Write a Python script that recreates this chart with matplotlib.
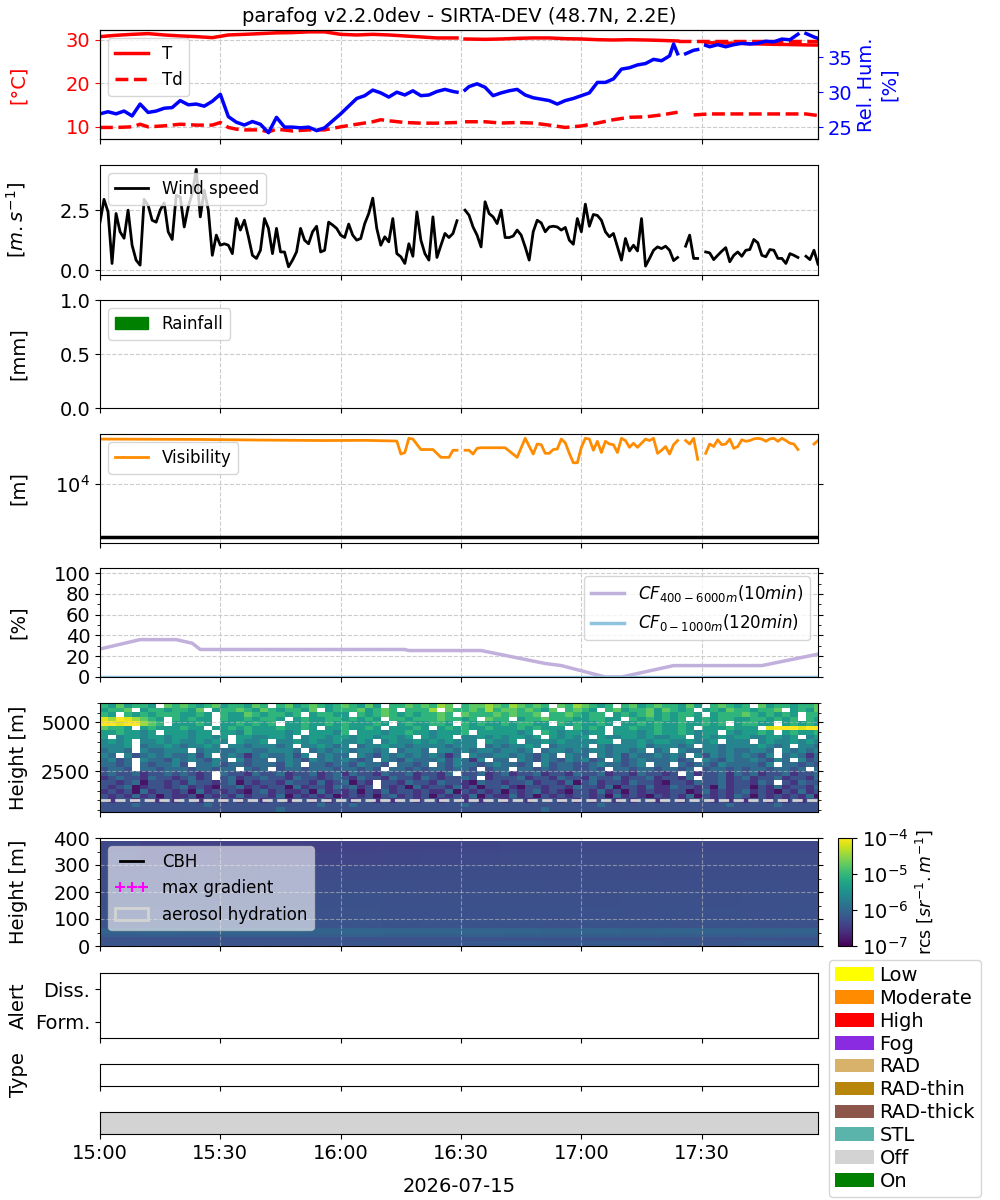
import numpy as np
import matplotlib
matplotlib.use("Agg")
import matplotlib.pyplot as plt
import matplotlib.dates as mdates
from matplotlib.colors import LogNorm
from matplotlib.patches import Patch
from matplotlib.lines import Line2D
from matplotlib.ticker import MultipleLocator, NullLocator

nan = np.nan
plt.rcParams['font.size'] = 14

# ---- data (minutes after 15:00) ----
t_min = [0, 4, 8, 12, 16, 20, 24, 28, 32, 36, 40, 44, 48, 52, 56, 60, 64, 68, 72, 76, 80, 84, 89, 90,
         91, 96, 100, 104, 108, 112, 116, 120, 124, 128, 132, 136, 140, 144, 145,
         151, 156, 160, 164, 168, 172, 176, 179]
t_val = [30.77, 31.08, 31.3, 31.47, 31.16, 30.93, 30.77, 30.54, 31.16, 31.3, 31.47, 31.64, 31.7, 31.87,
         31.87, 31.3, 31.16, 31.3, 31.16, 30.93, 30.7, 30.47, 30.47, nan,
         30.23, 30.15, 30.23, 30.38, 30.47, 30.47, 30.3, 30.23, 30.07, 30.0, 30.07, 30.0, 29.9, 29.77, nan,
         29.37, 29.3, 29.2, 29.1, 29.0, 28.95, 28.87, 28.83]
t2_min = [144, 179]
t2_val = [29.77, 29.77]

td_min = [0, 4, 8, 10, 12, 16, 20, 24, 28, 30, 32, 34, 36, 40, 42, 44, 48, 52, 56, 60, 64, 68, 70, 72,
          76, 80, 84, 89, 90, 91, 96, 100, 104, 108, 112, 116, 120, 124, 128, 132, 136, 140, 144, 145,
          148, 152, 156, 160, 164, 168, 172, 176, 179]
td_val = [9.86, 9.86, 10.0, 10.6, 10.0, 10.23, 10.6, 10.4, 10.4, 11.0, 9.86, 9.46, 9.3, 9.3, 8.83, 9.46,
          9.06, 9.3, 9.3, 10.0, 10.6, 11.17, 11.64, 11.4,
          11.0, 10.85, 10.85, 11.0, nan, 11.17, 11.17, 10.87, 11.0, 10.87, 10.4, 9.86, 10.2, 10.87, 11.64,
          12.2, 12.3, 12.74, 13.37, nan,
          12.74, 12.97, 12.97, 12.97, 12.97, 12.97, 12.97, 12.97, 12.6]

rh_min = [0, 2, 4, 6, 8, 10, 12, 14, 16, 18, 20, 22, 24, 26, 28, 30, 32, 34, 36, 38, 40, 42, 44, 46, 48,
          50, 52, 54, 56, 58, 60, 62, 64, 66, 68, 70, 72, 74, 76, 78, 80, 82, 84, 86, 88, 89, 90, 91,
          92, 94, 96, 98, 100, 102, 104, 106, 108, 110, 112, 114, 116, 118, 120, 122, 124, 126, 128,
          130, 132, 134, 136, 138, 140, 142, 143, 144, 145, 146, 148, 149, 150, 151, 152, 154, 156,
          158, 160, 162, 164, 166, 168, 170, 172, 174, 175, 176, 178, 179]
rh_val = [26.9, 27.2, 26.9, 27.3, 26.6, 28.3, 27.1, 27.3, 27.7, 27.8, 28.8, 28.2, 28.3, 28.0, 28.7, 29.7,
          26.5, 25.7, 25.3, 25.8, 25.4, 24.2, 26.4, 25.0, 25.0,
          24.9, 25.0, 24.5, 24.9, 25.9, 26.9, 28.0, 29.1, 29.5, 30.3, 29.9, 29.3, 30.0, 29.6, 30.2, 29.5,
          29.6, 30.1, 30.4, 30.1, 30.0, nan, 30.3,
          30.8, 31.2, 30.7, 29.5, 29.9, 30.2, 30.4, 29.6, 29.2, 29.0, 28.8, 28.3, 28.8, 29.1, 29.5, 29.9,
          31.4, 31.4, 31.9,
          33.3, 33.5, 33.9, 34.1, 34.7, 34.5, 35.2, 36.9, 35.5, nan, 35.5, 36.0, 36.1, nan, 36.7, 36.5,
          36.8, 36.5,
          36.8, 37.0, 36.9, 37.0, 37.3, 37.2, 37.6, 37.5, 38.3, nan, 38.4, 37.9, 37.7]

wind = [2.0, 2.95, 2.43, 0.28, 2.36, 1.6, 1.33, 2.5, 1.04, 0.42,
        0.21, 2.95, 2.7, 2.08, 2.0, 2.5, 2.8, 1.6, 1.28, 3.12,
        3.05, 1.8, 2.64, 3.2, 4.2, 2.22, 3.33, 2.5, 0.62, 1.46,
        1.04, 1.1, 1.04, 0.69, 2.15, 1.67, 2.08, 1.39, 0.62, 0.49,
        0.83, 2.15, 1.74, 0.69, 1.74, 0.76, 0.76, 0.14, 0.42, 0.76,
        1.74, 1.25, 1.1, 1.6, 1.83, 0.76, 0.83, 2.0, 1.88, 1.74,
        1.46, 1.36, 1.92, 1.46, 1.25, 1.32, 1.94, 2.36, 3.0, 1.74,
        1.04, 1.39, 1.18, 2.15, 0.69, 0.56, 0.28, 1.1, 0.58, 2.43,
        1.25, 0.69, 0.42, 2.22, 0.53, 1.04, 1.53, 1.36, 1.53, 2.06,
        nan, 2.5, 2.29, 1.8, 1.46, 0.97, 2.85, 2.36, 2.22, 1.94,
        2.5, 1.36, 1.36, 1.42, 1.67, 1.46, 0.97, 0.42, 1.6, 2.08,
        1.97, 1.6, 1.8, 1.83, 1.8, 1.67, 1.78, 1.25, 1.08, 2.15,
        1.6, 2.75, 1.83, 2.32, 2.28, 2.08, 1.6, 1.39, 1.53, 0.97,
        0.42, 1.32, 0.8, 1.04, 0.8, 2.15, 0.17, 0.49, 0.83, 0.97,
        0.9, 1.0, 0.83, 0.4, 0.53, nan, 1.0, 1.46, 0.49, 0.49,
        nan, 0.76, 0.72, 0.44, 0.62, 0.79, 0.94, 0.35, 0.62, 0.76,
        0.58, 0.83, 0.86, 1.28, 1.14, 0.62, 0.56, 0.86, 0.83, 0.49,
        0.49, 0.28, 0.69, 0.62, 0.53, nan, 0.58, 0.44, 0.83, 0.25]

rain_min = []
rain_mm = []

vis_min = [0, 24, 40, 56, 66, 74, 75, 76, 77, 78, 80, 83, 85, 87, 88, 89, 90, 91, 92, 93, 94, 95,
           101, 104, 106, 108, 109, 110, 111, 112, 113, 114, 115, 116, 117, 118, 119,
           120, 121, 122, 123, 124, 125, 126, 127, 128, 129,
           130, 131, 132, 133, 134, 135, 136, 137, 138, 139,
           140, 141, 142, 143, 144, 145, 146, 147, 148, 149,
           150, 151, 152, 153, 154, 155, 156, 157, 158, 159,
           160, 161, 162, 163, 164, 165, 166, 167, 168, 169,
           170, 171, 172, 173, 174, 175, 178, 179]
vis_val = [70600, 69500, 67600, 66200, 66800, 64800, 36800, 39300, 72900, 70600, 44800, 44800, 31900,
           31900, 43400, 43400, nan, 43400, 43400, 36800, 47200, 48400,
           48400, 31900, 72900, 36800, 56900, 55300, 38000, 38000, 44800, 45800, 70600, 60000, 38000,
           25200, 25200,
           49300, 72900, 70600, 43400, 64100, 39300, 64100, 56900, 55300, 39300,
           72900, 66200, 49300, 58900, 49300, 58900, 70600, 66200, 72900, 38000,
           43400, 51000, 36800, 55300, 66200, nan, 66200, 56900, 72900, 29300,
           nan, 38000, 56900, 51000, 68500, 55300, 56900, 70600, 47200, 51000,
           68500, 64100, 66200, 71100, 72900, 70600, 64100, 71100, 72900, 64100,
           72900, 66200, 58900, 56900, 44800, nan, 56900, 66200]
fog_threshold = 1000

cf_min = [0, 10, 19, 23, 25, 76, 77, 95, 111, 115, 126, 130, 143, 165, 179]
cf_high = [27, 36, 36, 32.5, 26.5, 26.5, 25.5, 25.5, 13, 11, 0, 0, 11, 11, 22]
cf_low_min = [0, 179]
cf_low = [0, 0]

# range-corrected signal, 400-6000 m, 2-min steps; level k -> 10**(-6.85 + 0.3k), '.' = no data
rcs_levels = "0123456789a"
rcs_rows_top_down = [
    "6575665.76 7656756657 6.67567656 76575.6676 7687.67787 687676.768 7656.67567 66575.6765 6.75665667",
    "5667.56656 657.566765 7656657.56 6675676.66 68.7667686 7767657.67 65.6756675 7656.56576 65667.5657",
    "65.6565666 5565.65576 56656.5665 5.65676565 6676.76667 67667.6676 566.565675 65665.5666 7656565.66",
    "98a98765.6 5655.65565 665.565566 56565.6656 6676656.76 6.56676665 56655.6565 656.565665 5665656.65",
    "aa9aa876.5 5565.55656 56.5565565 655565.565 5665.65655 656655.656 5565.55656 55655656.5 6655.56565",
    "7665.56555 655.556565 5565565.55 65565.5556 5.56565565 55656555.6 565.556556 5565.55565 55.9aaa9aa",
    "5565545.55 5455.55465 55545.5554 6.55545565 545556.555 5545.65455 455.555456 5565455.54 5565.56556",
    "5.45545545 545545.554 4554.45545 545545545. 5455.44545 45545.5454 5.54455454 455.454545 5445545.45",
    "4545.44545 445454.544 5.44545445 4454.45445 4545444.54 45.4454544 4455.44545 5445445.44 4.45445454",
    "4445.34454 34454.4434 4434.44543 4.34454434 4443444.34 34454.3444 4.43444534 4434.44344 445434.443",
    "3443.43344 4.34433443 34443.3434 434434.344 3.44343443 4434.34434 34434434.3 4.43344343 3443.43434",
    "43.4234343 3424.34313 433424.343 3.43243434 34313.4334 4343243.43 3.43424334 343.424343 4324.34313",
    "3423.43324 343243.423 3.34324343 4323.43243 33424314.3 3.43243243 423.423433 3423.43243 343243.423",
    "3323.32334 2.33423323 33243.3323 324332.332 3.32433234 3323.42332 23433234.3 3.32332433 3324.33232",
    "2332.33233 3233233.32 3.23323332 33232.3323 2332332.23 3.33232332 232.332332 3323.23323 23323323.3",
    "2322312232 3212.32213 2231223123 1322132231 2213.22312 3122312213 2231221322 12.3122313 2312231223",
    "1232213221 2312.23122 3221322123 2132213221 3212232.12 2231221322 1322312231 2213.22312 3122312213",
    "2212302212 1322123021 2213221312 3021.22132 2132210322 1223122130 2312213221 0221322312 2132.21322",
    "2123012212 3121022312 1220312213 2312.21203 1221312022 3102212213 2213022131 1322120312 2021312213",
    "1212031221 2031212102 3121120312 1202131221 2113021212 0212312102 2131202121 1220131212 3121021312",
    "2121312021 1202121312 2130212120 1212023121 2021213021 1312021212 2120312102 1213021213 2021212130",
    "2122122121 2212212122 1221221212 2122121221 2212212122 1221222121 2122121221 2212221212 1221212122",
    "2222322222 2223222222 2222222322 2322222222 2222232222 2222222222 2232222222 2222222232 2222322222",
    "2222222222 2222222222 2232222222 2222222222 2222222222 2222232222 2222222222 2222222222 2222222222",
]

# low-level rcs (log10), 0-390 m, 10-min steps
low_heights = [0, 20, 35, 45, 65, 100, 150, 200, 250, 300, 350, 390]
low_rcs = [
    [-6.22, -6.22, -6.22, -6.21, -6.22, -6.22, -6.2, -6.22, -6.2, -6.17, -6.16, -6.18, -6.16, -6.17, -6.2, -6.21, -6.17, -6.18],
    [-6.25, -6.25, -6.25, -6.24, -6.25, -6.25, -6.24, -6.25, -6.24, -6.23, -6.24, -6.23, -6.24, -6.24, -6.25, -6.25, -6.24, -6.25],
    [-6.13, -6.12, -6.13, -6.12, -6.11, -6.12, -6.1, -6.12, -6.11, -6.1, -6.11, -6.12, -6.11, -6.12, -6.12, -6.13, -6.12, -6.13],
    [-6.06, -6.05, -6.06, -6.05, -6.04, -6.06, -6.03, -6.05, -6.04, -6.05, -6.05, -6.06, -6.05, -6.06, -6.05, -6.06, -6.06, -6.07],
    [-6.23, -6.23, -6.23, -6.22, -6.23, -6.22, -6.21, -6.23, -6.22, -6.23, -6.23, -6.24, -6.23, -6.23, -6.24, -6.23, -6.24, -6.24],
    [-6.26, -6.26, -6.25, -6.26, -6.26, -6.25, -6.25, -6.26, -6.26, -6.26, -6.26, -6.26, -6.26, -6.27, -6.26, -6.26, -6.27, -6.26],
    [-6.27, -6.27, -6.27, -6.27, -6.28, -6.27, -6.26, -6.27, -6.27, -6.27, -6.27, -6.27, -6.28, -6.27, -6.27, -6.28, -6.27, -6.27],
    [-6.28, -6.29, -6.29, -6.3, -6.29, -6.29, -6.28, -6.28, -6.29, -6.28, -6.28, -6.29, -6.28, -6.28, -6.29, -6.28, -6.28, -6.29],
    [-6.3, -6.32, -6.33, -6.33, -6.32, -6.32, -6.31, -6.3, -6.3, -6.3, -6.3, -6.3, -6.3, -6.31, -6.3, -6.3, -6.3, -6.3],
    [-6.32, -6.37, -6.38, -6.39, -6.38, -6.38, -6.37, -6.36, -6.35, -6.33, -6.32, -6.32, -6.32, -6.32, -6.32, -6.32, -6.32, -6.32],
    [-6.35, -6.41, -6.42, -6.43, -6.42, -6.42, -6.41, -6.4, -6.38, -6.36, -6.35, -6.35, -6.35, -6.35, -6.35, -6.35, -6.35, -6.35],
]

cbh_min = []
cbh_m = []

alert_ticks = ['Form.', 'Diss.']
onoff_start = [0]
onoff_end = [180]
onoff_state = ['Off']

legend_labels = ['Low', 'Moderate', 'High', 'Fog', 'RAD', 'RAD-thin', 'RAD-thick', 'STL', 'Off', 'On']
legend_colors = ['yellow', 'darkorange', 'red', 'blueviolet', '#d8b26a', 'darkgoldenrod',
                 '#8c564b', '#5ab4ac', 'lightgray', 'green']

# ---- helpers ----
base = np.datetime64('2026-07-15T15:00')


def tm(m):
    return base + (np.asarray(m, dtype=float) * 60).astype('timedelta64[s]')


norm = LogNorm(1e-7, 1e-4)
grid_kw = dict(ls='--', color='#cccccc', lw=0.8)

fig = plt.figure(figsize=(10, 12), dpi=100)
L, W = 0.1, 0.718


def box(top, bottom):
    return [L, 1 - bottom / 1200, W, (bottom - top) / 1200]


ax1 = fig.add_axes(box(30, 139))
ax2 = fig.add_axes(box(165, 275), sharex=ax1)
ax3 = fig.add_axes(box(300, 408), sharex=ax1)
ax4 = fig.add_axes(box(434, 543), sharex=ax1)
ax5 = fig.add_axes(box(568, 677), sharex=ax1)
ax6 = fig.add_axes(box(703, 812), sharex=ax1)
ax7 = fig.add_axes(box(838, 946), sharex=ax1)
ax8 = fig.add_axes(box(973, 1038), sharex=ax1)
ax9 = fig.add_axes(box(1064, 1086), sharex=ax1)
ax10 = fig.add_axes(box(1112, 1134), sharex=ax1)
cax = fig.add_axes([0.838, 1 - 946 / 1200, 0.014, 108 / 1200])

# T / Td / RH
ax1.plot(tm(t_min), t_val, color='red', lw=2.5, label='T')
ax1.plot(tm(td_min), td_val, color='red', lw=2.5, ls='--', label='Td')
ax1.plot(tm(t2_min), t2_val, color='red', lw=2.5, ls='--')
ax1.set_ylim(7.2, 32.3)
ax1.set_yticks([10, 20, 30])
ax1.tick_params(axis='y', colors='red')
ax1.set_ylabel('[°C]', color='red')
ax1.grid(True, **grid_kw)
ax1.set_title('parafog v2.2.0dev - SIRTA-DEV (48.7N, 2.2E)', fontsize=14)
ax1b = ax1.twinx()
ax1b.plot(tm(rh_min), rh_val, color='blue', lw=2.5)
ax1b.set_ylim(23.3, 38.9)
ax1b.set_yticks([25, 30, 35])
ax1b.tick_params(axis='y', colors='blue')
ax1b.set_ylabel('Rel. Hum.\n[%]', color='blue')
ax1b.yaxis.set_label_coords(1.055, 0.5)
h, lab = ax1.get_legend_handles_labels()
ax1b.legend(h, lab, loc='upper left', fontsize=12)

# wind
ax2.plot(tm(np.arange(len(wind))), wind, color='black', lw=2, label='Wind speed')
ax2.set_ylim(-0.2, 4.38)
ax2.set_yticks([0, 2.5])
ax2.set_yticklabels(['0.0', '2.5'])
ax2.set_ylabel('[$m.s^{-1}$]')
ax2.grid(True, **grid_kw)
ax2.legend(loc='upper left', fontsize=12)

# rainfall
ax3.bar(tm(rain_min), rain_mm, color='green')
ax3.set_ylim(0, 1)
ax3.set_yticks([0, 0.5, 1.0])
ax3.set_ylabel('[mm]')
ax3.grid(True, **grid_kw)
ax3.legend(handles=[Patch(color='green', label='Rainfall')], loc='upper left', fontsize=12)

# visibility
ax4.plot(tm(vis_min), vis_val, color='darkorange', lw=2, label='Visibility')
ax4.axhline(fog_threshold, color='black', lw=2.5)
ax4.set_yscale('log')
ax4.set_ylim(770, 88000)
ax4.set_yticks([1e4])
ax4.yaxis.set_minor_locator(NullLocator())
ax4.tick_params(axis='y', right=True)
ax4.set_ylabel('[m]')
ax4.grid(True, **grid_kw)
ax4.legend(loc='upper left', fontsize=12)

# cloud fraction
ax5.plot(tm(cf_min), cf_high, color='#c2b0dc', lw=2.5, label='$CF_{400-6000m}(10min)$')
ax5.plot(tm(cf_low_min), cf_low, color='#8fc3e0', lw=2.5, label='$CF_{0-1000m}(120min)$')
ax5.set_ylim(0, 105)
ax5.set_yticks([0, 20, 40, 60, 80, 100])
ax5.yaxis.set_minor_locator(MultipleLocator(10))
ax5.tick_params(axis='y', which='both', right=True)
ax5.set_ylabel('[%]')
ax5.grid(True, **grid_kw)
ax5.legend(loc='upper right', fontsize=12)

# lidar 400-6000 m
rows = [r.replace(' ', '') for r in rcs_rows_top_down][::-1]
rcs_log = np.array([[nan if c == '.' else -6.85 + 0.3 * rcs_levels.index(c) for c in r] for r in rows])
nx = rcs_log.shape[1]
x_edges = mdates.date2num(tm(np.arange(nx + 1) * 2))
y_edges = np.linspace(400, 6000, rcs_log.shape[0] + 1)
ax6.pcolormesh(x_edges, y_edges, 10 ** rcs_log, cmap='viridis', norm=norm)
ax6.axhline(1000, color='lightgrey', ls='--', lw=2)
ax6.set_ylim(400, 6000)
ax6.set_yticks([2500, 5000])
ax6.yaxis.set_minor_locator(MultipleLocator(500))
ax6.tick_params(axis='y', which='both', right=True)
ax6.set_ylabel('Height [m]')
ax6.grid(True, ls='--', color='#bbbbbb', lw=0.8, alpha=0.6)

# lidar 0-400 m
low = np.array(low_rcs)
x_edges2 = mdates.date2num(tm(np.arange(low.shape[1] + 1) * 10))
mesh = ax7.pcolormesh(x_edges2, low_heights, 10 ** low, cmap='viridis', norm=norm)
ax7.plot(tm(cbh_min), cbh_m, color='black', lw=2)
ax7.set_ylim(0, 400)
ax7.set_yticks([0, 100, 200, 300, 400])
ax7.yaxis.set_minor_locator(MultipleLocator(50))
ax7.tick_params(axis='y', which='both', right=True)
ax7.set_ylabel('Height [m]')
ax7.grid(True, ls='--', color='#bbbbbb', lw=0.8, alpha=0.6)
ax7.legend(handles=[Line2D([], [], color='black', lw=2, label='CBH'),
                    Line2D([], [], color='magenta', marker='+', ls='none', ms=7, mew=1.5,
                           label='max gradient'),
                    Patch(facecolor='none', edgecolor='lightgrey', lw=2, label='aerosol hydration')],
           loc='upper left', fontsize=12, numpoints=3, framealpha=0.6)
cb = fig.colorbar(mesh, cax=cax)
cb.set_ticks([1e-7, 1e-6, 1e-5, 1e-4])
cb.set_label('rcs [$sr^{-1}.m^{-1}$]', fontsize=12.5)

# alert / type / on-off
ax8.set_ylim(-0.5, 1.5)
ax8.set_yticks([0, 1])
ax8.set_yticklabels(alert_ticks)
ax8.set_ylabel('Alert')
ax9.set_yticks([])
ax9.set_ylabel('Type')
ax10.set_yticks([])
for s, e, st in zip(onoff_start, onoff_end, onoff_state):
    ax10.axvspan(tm(s), tm(e), color=legend_colors[legend_labels.index(st)])

for ax in [ax1, ax2, ax3, ax4, ax5, ax6, ax7, ax8, ax9]:
    ax.tick_params(axis='x', labelbottom=False)
for ax in [ax1, ax2, ax3, ax4, ax5, ax6, ax7, ax8, ax9, ax10]:
    ax.yaxis.set_label_coords(-0.1, 0.5)

ax10.set_xlim(tm(0), tm(179))
ax10.xaxis.set_major_locator(mdates.MinuteLocator(byminute=[0, 30]))
ax10.xaxis.set_major_formatter(mdates.DateFormatter('%H:%M'))
ax10.set_xlabel('2026-07-15', labelpad=10)

fig.legend(handles=[Patch(facecolor=c, label=l) for l, c in zip(legend_labels, legend_colors)],
           loc='upper left', bbox_to_anchor=(0.829, 1 - 960 / 1200), fontsize=14,
           labelspacing=0.2, handletextpad=0.3, borderpad=0.3, borderaxespad=0)

fig.savefig('out.png', dpi=100)
